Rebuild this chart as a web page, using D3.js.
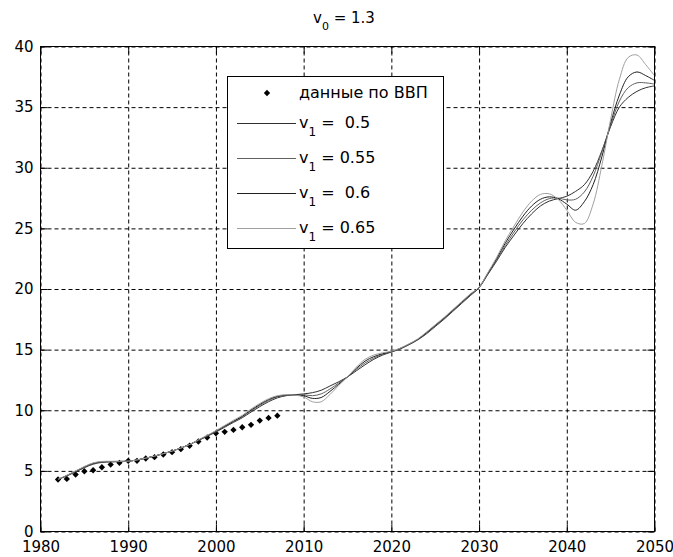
<!DOCTYPE html>
<html lang="ru">

<head>
    <meta charset="UTF-8">
    <title>v0 = 1.3</title>
    <script src="https://cdnjs.cloudflare.com/ajax/libs/d3/7.8.5/d3.min.js"></script>
    <style>
        body { margin: 0; background: #fff; }
        svg text { font-family: "DejaVu Sans", sans-serif; fill: #000; white-space: pre; }
        .grid line { stroke: #000; stroke-dasharray: 4, 3; }
        .grid path, .ticks path { display: none; }
        .ticks line { stroke: #000; }
    </style>
</head>

<body>
    <script>
        // model years and GDP data points
        const years = d3.range(1982, 2051);
        const gdpYears = d3.range(1982, 2008);
        const gdp = [4.29, 4.34, 4.7, 4.97, 5.05, 5.3, 5.52, 5.66, 5.83, 5.83, 6.02, 6.13, 6.35,
            6.54, 6.79, 7.07, 7.42, 7.75, 8.1, 8.22, 8.38, 8.6, 8.8, 9.15, 9.37, 9.55];

        // model curves, one value per year 1982..2050
        const v1_050 = [4.3, 4.58, 4.92, 5.26, 5.55, 5.7, 5.74, 5.77, 5.8, 5.9, 6.05, 6.22, 6.42, 6.63, 6.88, 7.18, 7.5, 7.85, 8.2, 8.6, 9.0, 9.38, 9.85, 10.3, 10.7, 11.02, 11.2, 11.28,
            11.35, 11.45, 11.65, 12.0, 12.35, 12.75, 13.25, 13.75, 14.2, 14.55, 14.8,
            15.05, 15.4, 15.8, 16.3, 16.9, 17.5, 18.15, 18.8, 19.45, 20.1,
            21.2, 22.3, 23.45, 24.45, 25.4, 26.2, 26.85, 27.25, 27.45, 27.65,
            28.05, 28.6, 29.7, 31.4, 33.4, 35.0, 35.8, 36.3, 36.6, 36.75];
        const v1_055 = [4.3, 4.6, 4.95, 5.3, 5.6, 5.72, 5.75, 5.77, 5.8, 5.9, 6.05, 6.22, 6.42, 6.63, 6.88, 7.18, 7.52, 7.88, 8.25, 8.65, 9.05, 9.45, 9.95, 10.4, 10.8, 11.1, 11.22, 11.27,
            11.28, 11.2, 11.35, 11.75, 12.25, 12.75, 13.35, 13.9, 14.3, 14.6, 14.82,
            15.08, 15.42, 15.82, 16.35, 16.95, 17.55, 18.2, 18.85, 19.5, 20.15,
            21.25, 22.4, 23.6, 24.7, 25.7, 26.5, 27.1, 27.45, 27.5, 27.35,
            27.4, 28.0, 29.3, 31.3, 33.5, 35.5, 36.6, 37.0, 37.0, 36.9];
        const v1_060 = [4.3, 4.62, 4.98, 5.33, 5.63, 5.75, 5.77, 5.78, 5.8, 5.9, 6.05, 6.22, 6.42, 6.63, 6.88, 7.18, 7.54, 7.9, 8.28, 8.7, 9.1, 9.5, 10.02, 10.48, 10.88, 11.15, 11.25, 11.27,
            11.2, 10.98, 11.05, 11.55, 12.15, 12.75, 13.45, 14.05, 14.42, 14.66, 14.84,
            15.1, 15.45, 15.85, 16.4, 17.0, 17.6, 18.25, 18.9, 19.55, 20.15,
            21.3, 22.5, 23.8, 24.95, 26.0, 26.85, 27.4, 27.6, 27.45, 27.0,
            26.5, 27.2, 28.6, 30.9, 33.7, 36.0, 37.5, 37.9, 37.6, 37.2];
        const v1_065 = [4.3, 4.64, 5.0, 5.36, 5.66, 5.78, 5.79, 5.79, 5.8, 5.9, 6.05, 6.22, 6.42, 6.63, 6.88, 7.18, 7.56, 7.93, 8.32, 8.75, 9.17, 9.58, 10.1, 10.56, 10.95, 11.2, 11.28, 11.25,
            11.1, 10.7, 10.7, 11.3, 12.05, 12.75, 13.55, 14.2, 14.55, 14.74, 14.86,
            15.12, 15.47, 15.88, 16.45, 17.05, 17.65, 18.3, 18.95, 19.6, 20.15,
            21.35, 22.6, 24.0, 25.2, 26.35, 27.25, 27.8, 27.85, 27.4, 26.5,
            25.5, 25.4, 27.0, 30.2, 34.0, 37.3, 39.1, 39.3, 38.5, 37.6];

        const seriesNames = [' 0.5', '0.55', ' 0.6', '0.65'];
        const seriesColors = ['#303030', '#606060', '#202020', '#a0a0a0'];
        const xTicks = [1980, 1990, 2000, 2010, 2020, 2030, 2040, 2050];
        const yTicks = [0, 5, 10, 15, 20, 25, 30, 35, 40];
        const dataLabel = 'данные по ВВП';

        const w = 673;
        const h = 557;
        const series = [v1_050, v1_055, v1_060, v1_065];

        const x = d3.scaleLinear().domain([1980, 2050]).range([40.5, 654.5]);
        const y = d3.scaleLinear().domain([0, 40]).range([531.5, 46.5]);

        const svg = d3.select('body')
            .append('svg')
            .attr('width', w)
            .attr('height', h);

        // Grid
        svg.append('g')
            .attr('class', 'grid')
            .attr('transform', `translate(0, ${y(0)})`)
            .call(d3.axisBottom(x).tickValues(xTicks).tickSize(-(y(0) - y(40))).tickFormat(''));

        svg.append('g')
            .attr('class', 'grid')
            .attr('transform', `translate(${x(1980)}, 0)`)
            .call(d3.axisLeft(y).tickValues(yTicks).tickSize(-(x(2050) - x(1980))).tickFormat(''));

        // Ticks, inside on all four sides
        const axisFont = g => g.attr('font-size', 15).attr('font-family', '"DejaVu Sans", sans-serif');

        svg.append('g')
            .attr('class', 'ticks')
            .attr('transform', `translate(0, ${y(0)})`)
            .call(d3.axisBottom(x).tickValues(xTicks).tickSize(-7).tickPadding(10).tickFormat(d3.format('d')))
            .call(axisFont);

        svg.append('g')
            .attr('class', 'ticks')
            .attr('transform', `translate(${x(1980)}, 0)`)
            .call(d3.axisLeft(y).tickValues(yTicks).tickSize(-7).tickPadding(7))
            .call(axisFont);

        svg.append('g')
            .attr('class', 'ticks')
            .attr('transform', `translate(0, ${y(40)})`)
            .call(d3.axisTop(x).tickValues(xTicks).tickSize(-7).tickFormat(''));

        svg.append('g')
            .attr('class', 'ticks')
            .attr('transform', `translate(${x(2050)}, 0)`)
            .call(d3.axisRight(y).tickValues(yTicks).tickSize(-7).tickFormat(''));

        // Data points
        const diamond = d3.symbol().type(d3.symbolSquare).size(20);

        svg.append('g')
            .selectAll('path')
            .data(gdp)
            .enter()
            .append('path')
            .attr('d', diamond)
            .attr('transform', (d, i) => `translate(${x(gdpYears[i])}, ${y(d)}) rotate(45)`)
            .attr('fill', '#000');

        // Model curves
        const line = d3.line()
            .x((d, i) => x(years[i]))
            .y(d => y(d))
            .curve(d3.curveCatmullRom.alpha(0.5));

        svg.append('g')
            .selectAll('path')
            .data(series)
            .enter()
            .append('path')
            .attr('d', line)
            .attr('fill', 'none')
            .attr('stroke', (d, i) => seriesColors[i])
            .attr('stroke-width', 1);

        // Box
        svg.append('rect')
            .attr('x', x(1980))
            .attr('y', y(40))
            .attr('width', x(2050) - x(1980))
            .attr('height', y(0) - y(40))
            .attr('fill', 'none')
            .attr('stroke', '#000');

        // Title
        const title = svg.append('text')
            .attr('x', 344)
            .attr('y', 23)
            .attr('text-anchor', 'middle')
            .attr('font-size', 15);
        title.append('tspan').text('v');
        title.append('tspan').attr('font-size', 11).attr('dy', 7).text('0');
        title.append('tspan').attr('dy', -7).text(' = 1.3');

        // Legend
        const legend = svg.append('g');

        legend.append('rect')
            .attr('x', 227.5)
            .attr('y', 76.5)
            .attr('width', 216)
            .attr('height', 172)
            .attr('fill', '#fff')
            .attr('stroke', '#000');

        legend.append('path')
            .attr('d', diamond)
            .attr('transform', 'translate(267, 93) rotate(45)')
            .attr('fill', '#000');

        legend.append('text')
            .attr('x', 299)
            .attr('y', 98)
            .attr('font-size', 16)
            .text(dataLabel);

        const rows = [123, 158, 193, 228];

        seriesNames.forEach((name, i) => {
            legend.append('line')
                .attr('x1', 237)
                .attr('x2', 296)
                .attr('y1', rows[i] + 0.5)
                .attr('y2', rows[i] + 0.5)
                .attr('stroke', seriesColors[i]);

            const t = legend.append('text')
                .attr('x', 299)
                .attr('y', rows[i] + 5)
                .attr('font-size', 16);
            t.append('tspan').text('v');
            t.append('tspan').attr('font-size', 12).attr('dy', 8).text('1');
            t.append('tspan').attr('dy', -8).text(' = ' + name);
        });
    </script>
</body>

</html>
